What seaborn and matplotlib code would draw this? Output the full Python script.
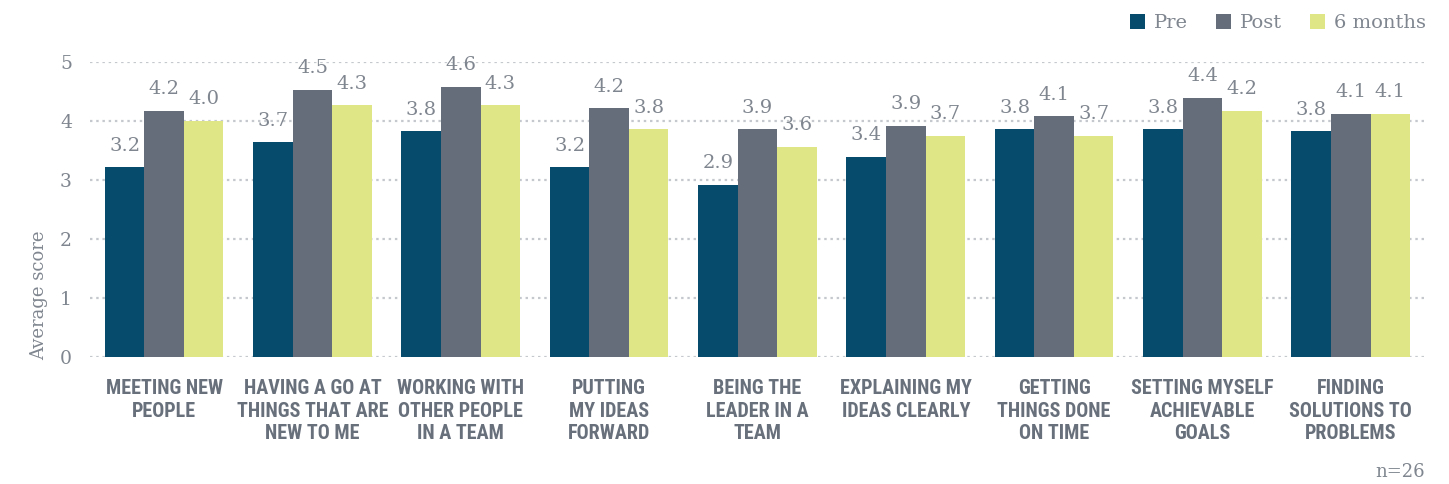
import matplotlib
matplotlib.use("Agg")
import matplotlib.pyplot as plt
from matplotlib import font_manager
import seaborn as sns
import pandas as pd

# chart data
categories = [
    "MEETING NEW\nPEOPLE",
    "HAVING A GO AT\nTHINGS THAT ARE\nNEW TO ME",
    "WORKING WITH\nOTHER PEOPLE\nIN A TEAM",
    "PUTTING\nMY IDEAS\nFORWARD",
    "BEING THE\nLEADER IN A\nTEAM",
    "EXPLAINING MY\nIDEAS CLEARLY",
    "GETTING\nTHINGS DONE\nON TIME",
    "SETTING MYSELF\nACHIEVABLE\nGOALS",
    "FINDING\nSOLUTIONS TO\nPROBLEMS",
]
series = ["Pre", "Post", "6 months"]
pre = [3.22, 3.64, 3.83, 3.22, 2.92, 3.39, 3.86, 3.86, 3.83]
post = [4.17, 4.53, 4.58, 4.22, 3.86, 3.92, 4.08, 4.39, 4.12]
six_months = [4.0, 4.27, 4.27, 3.86, 3.56, 3.75, 3.75, 4.17, 4.12]
pre_labels = ["3.2", "3.7", "3.8", "3.2", "2.9", "3.4", "3.8", "3.8", "3.8"]
post_labels = ["4.2", "4.5", "4.6", "4.2", "3.9", "3.9", "4.1", "4.4", "4.1"]
six_labels = ["4.0", "4.3", "4.3", "3.8", "3.6", "3.7", "3.7", "4.2", "4.1"]
y_ticks = [0, 1, 2, 3, 4, 5]

colors = ["#064a6c", "#646d79", "#dfe685"]
text_grey = "#80868f"
label_grey = "#68707c"


def pick_condensed():
    # look for a narrow bold sans for the category labels
    for name in ["Roboto Condensed", "Open Sans Condensed", "Liberation Sans Narrow",
                 "DejaVu Sans", "Roboto", "Open Sans"]:
        try:
            fp = font_manager.FontProperties(family=name, weight="bold", stretch="condensed")
            path = font_manager.findfont(fp, fallback_to_default=False)
        except Exception:
            continue
        low = path.lower()
        if "condensed" in low or "narrow" in low:
            return name, 14.5
    return "DejaVu Sans", 10.5


cond_family, cond_size = pick_condensed()

df = pd.DataFrame({
    "category": categories * 3,
    "group": [s for s in series for _ in categories],
    "score": pre + post + six_months,
})

sns.set_style("white")
plt.rcParams["font.family"] = ["DejaVu Serif"]

fig = plt.figure(figsize=(14.49, 4.84), dpi=100)
ax = fig.add_axes([0.0621, 0.2624, 0.9213, 0.6095])

sns.barplot(data=df, x="category", y="score", hue="group", hue_order=series,
            palette=colors, width=0.8, gap=0, saturation=1, ax=ax,
            errorbar=None, linewidth=0, zorder=3)

# value labels
for container, labels in zip(ax.containers, [pre_labels, post_labels, six_labels]):
    ax.bar_label(container, labels=labels, padding=9, color=text_grey, fontsize=14)

ax.set_ylim(0, 5)
ax.set_xlim(-0.5, len(categories) - 0.5)
ax.set_yticks(y_ticks)
ax.yaxis.grid(True, linestyle=(0, (1.1, 1.7)), color="#c5c9ce", linewidth=1.6, zorder=0)
ax.set_axisbelow(True)
sns.despine(ax=ax, left=True, bottom=True)
ax.tick_params(axis="both", length=0)
ax.tick_params(axis="y", pad=13, labelsize=13.5, labelcolor=text_grey)
ax.tick_params(axis="x", pad=16)
for t in ax.get_xticklabels():
    t.set_family([cond_family, "DejaVu Sans"])
    t.set_fontstretch("condensed")
    t.set_fontweight("bold")
    t.set_fontsize(cond_size)
    t.set_color(label_grey)
    t.set_linespacing(1.22)
    t.set_verticalalignment("top")

ax.set_xlabel("")
ax.set_ylabel("Average score", color=text_grey, fontsize=13)
ax.yaxis.set_label_coords(-0.031, 0.21)

ax.legend_.remove()
handles, labels = ax.get_legend_handles_labels()
leg = fig.legend(handles, labels, ncol=3, frameon=False, loc="center right",
                 bbox_to_anchor=(0.984, 0.952), borderaxespad=0, borderpad=0,
                 fontsize=14, handlelength=0.78, handleheight=0.78,
                 handletextpad=0.45, columnspacing=1.45)
for txt in leg.get_texts():
    txt.set_color(text_grey)

fig.text(0.9834, 0.025, "n=26", ha="right", va="center", color=text_grey, fontsize=13)

fig.savefig("out.png", dpi=100)
